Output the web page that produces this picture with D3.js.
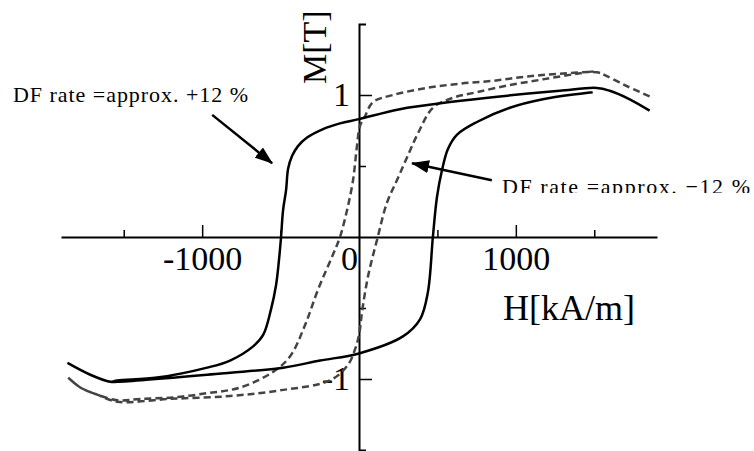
<!DOCTYPE html>
<html>
<head>
<meta charset="utf-8">
<script src="https://cdn.jsdelivr.net/npm/d3@7"></script>
<style>
  body { margin: 0; background: #fff; }
  text { font-family: "Liberation Serif", "Times New Roman", serif; }
</style>
</head>
<body>
<svg id="chart" width="754" height="451"></svg>
<script>
// H in kA/m, M in T
// solid loop (DF rate +12 %): falling branch then rising branch
const solidDown = [[1853,0.89],[1726,0.97],[1599,1.03],[1516,1.05],[1280,1.03],[898,0.99],[580,0.95],[261,0.90],[0,0.83],[-121,0.80],[-229,0.76],[-331,0.70],[-389,0.64],[-427,0.57],[-452,0.48],[-465,0.33],[-484,0.19],[-497,0],[-510,-0.16],[-529,-0.34],[-561,-0.51],[-611,-0.69],[-675,-0.77],[-822,-0.87],[-968,-0.92],[-1287,-0.99],[-1541,-1.01],[-1586,-1.02],[-1713,-0.97],[-1853,-0.89]];
const solidUp = [[-1853,-0.89],[-1713,-0.97],[-1586,-1.02],[-1541,-1.02],[-968,-0.97],[-484,-0.92],[-248,-0.87],[0,-0.82],[280,-0.70],[389,-0.58],[439,-0.39],[471,0],[497,0.28],[529,0.47],[567,0.62],[624,0.72],[752,0.81],[962,0.91],[1172,0.97],[1490,1.02]];

// dashed loop (DF rate -12 %)
const dashDown = [[1853,0.99],[1694,1.07],[1567,1.14],[1516,1.16],[1280,1.15],[1070,1.13],[854,1.10],[643,1.08],[433,1.05],[217,1.00],[89,0.95],[38,0.85],[6,0.78],[-13,0.64],[-38,0.40],[-76,0.19],[-121,0],[-153,-0.09],[-261,-0.37],[-344,-0.62],[-439,-0.84],[-548,-0.95],[-758,-1.06],[-968,-1.10],[-1185,-1.13],[-1395,-1.14],[-1541,-1.15],[-1669,-1.11],[-1777,-1.06],[-1854,-0.99]];
const dashUp = [[-1854,-0.99],[-1777,-1.06],[-1669,-1.11],[-1541,-1.16],[-1204,-1.14],[-822,-1.12],[-503,-1.08],[-185,-1.01],[-70,-0.90],[-25,-0.79],[-6,-0.72],[6,-0.65],[19,-0.53],[57,-0.28],[115,-0.02],[178,0.24],[242,0.40],[306,0.56],[376,0.73],[471,0.91],[599,0.98],[752,1.02],[962,1.07],[1172,1.11],[1389,1.15],[1516,1.17]];

const xMajor = [-1000, 1000];
const xMinor = [-1500, -500, 500, 1500];
const yMajor = [-1, 1];
const yMinor = [-0.5, 0.5];

// arrow [from, to] in data units
const arrowPlus = [[-936, 0.86], [-554, 0.52]];
const arrowMinus = [[847, 0.40], [338, 0.52]];

const svg = d3.select("#chart");

const x = d3.scaleLinear().domain([-1900, 1900]).range([61, 657]);
const y = d3.scaleLinear().domain([-1.5, 1.5]).range([450, 24]);

function clean(g) {
    g.attr("font-size", null).attr("font-family", null);
}

// x axis, ticks pointing up
svg.append("g")
    .attr("transform", `translate(0,${y(0)})`)
    .call(d3.axisBottom(x).tickValues(xMinor).tickSizeInner(-7).tickSizeOuter(0).tickFormat(""))
    .call(g => g.select(".domain").attr("stroke-width", 2))
    .call(g => g.selectAll(".tick line").attr("stroke-width", 1.5));

svg.append("g")
    .attr("transform", `translate(0,${y(0)})`)
    .call(d3.axisBottom(x).tickValues(xMajor).tickSizeInner(-12).tickSizeOuter(0).tickPadding(9).tickFormat(d => String(d)))
    .call(clean)
    .call(g => g.select(".domain").remove())
    .call(g => g.selectAll(".tick line").attr("stroke-width", 1.5))
    .call(g => g.selectAll(".tick text").attr("font-size", 34).attr("fill", "#000"));

svg.append("text")
    .attr("x", x(0) - 1)
    .attr("y", 270)
    .attr("text-anchor", "end")
    .attr("font-size", 34)
    .text("0");

// y axis, ticks pointing right
svg.append("g")
    .attr("transform", `translate(${x(0)},0)`)
    .call(d3.axisLeft(y).tickValues(yMinor).tickSizeInner(-7).tickSizeOuter(-7).tickFormat(""))
    .call(g => g.select(".domain").attr("stroke-width", 2))
    .call(g => g.selectAll(".tick line").attr("stroke-width", 1.5));

svg.append("g")
    .attr("transform", `translate(${x(0)},0)`)
    .call(d3.axisLeft(y).tickValues(yMajor).tickSizeInner(-13).tickSizeOuter(0).tickPadding(9).tickFormat(d => String(d)))
    .call(clean)
    .call(g => g.select(".domain").remove())
    .call(g => g.selectAll(".tick line").attr("stroke-width", 1.5))
    .call(g => g.selectAll(".tick text").attr("font-size", 34).attr("fill", "#000"));

// axis titles
svg.append("text")
    .attr("transform", "translate(326,84) rotate(-90)")
    .attr("font-size", 34)
    .text("M[T]");

svg.append("text")
    .attr("x", 503)
    .attr("y", 320)
    .attr("font-size", 36)
    .text("H[kA/m]");

// loops
const line = d3.line()
    .x(d => x(d[0]))
    .y(d => y(d[1]))
    .curve(d3.curveCatmullRom.alpha(0.5));

svg.append("path")
    .datum(dashDown.concat(dashUp.slice(1)))
    .attr("fill", "none")
    .attr("stroke", "#444")
    .attr("stroke-width", 2.5)
    .attr("stroke-dasharray", "7,4")
    .attr("d", line);

svg.append("path")
    .datum(solidDown.concat(solidUp.slice(1)))
    .attr("fill", "none")
    .attr("stroke", "#000")
    .attr("stroke-width", 2.5)
    .attr("stroke-linejoin", "round")
    .attr("d", line);

// arrows
svg.append("defs").append("marker")
    .attr("id", "head")
    .attr("viewBox", "0 0 18 13")
    .attr("refX", 17)
    .attr("refY", 6.5)
    .attr("markerWidth", 18)
    .attr("markerHeight", 13)
    .attr("markerUnits", "userSpaceOnUse")
    .attr("orient", "auto")
    .append("path")
    .attr("d", "M0,0L18,6.5L0,13Z")
    .attr("fill", "#000");

svg.selectAll(".arrow")
    .data([arrowPlus, arrowMinus])
    .join("line")
    .attr("class", "arrow")
    .attr("x1", d => x(d[0][0]))
    .attr("y1", d => y(d[0][1]))
    .attr("x2", d => x(d[1][0]))
    .attr("y2", d => y(d[1][1]))
    .attr("stroke", "#000")
    .attr("stroke-width", 2.5)
    .attr("marker-end", "url(#head)");

// annotations
svg.append("text")
    .attr("x", 13)
    .attr("y", 102)
    .attr("font-size", 22)
    .attr("textLength", 235)
    .attr("lengthAdjust", "spacing")
    .text("DF rate =approx. +12 %");

svg.select("defs").append("clipPath")
    .attr("id", "cut")
    .append("rect")
    .attr("x", 480).attr("y", 160).attr("width", 274).attr("height", 33);

svg.append("text")
    .attr("x", 502)
    .attr("y", 194)
    .attr("font-size", 22)
    .attr("textLength", 248)
    .attr("lengthAdjust", "spacing")
    .attr("clip-path", "url(#cut)")
    .text("DF rate =approx.  \u221212 %");
</script>
</body>
</html>
